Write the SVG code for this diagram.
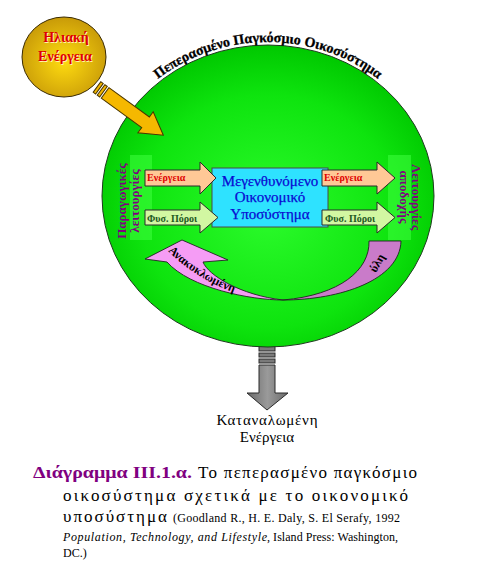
<svg xmlns="http://www.w3.org/2000/svg" width="490" height="564" viewBox="0 0 490 564">
<defs>
<radialGradient id="gEco" cx="50%" cy="55%" r="55%">
<stop offset="0" stop-color="#2cfb2c"/>
<stop offset="0.7" stop-color="#0ee40e"/>
<stop offset="1" stop-color="#00c800"/>
</radialGradient>
<radialGradient id="gSun" cx="50%" cy="55%" r="55%">
<stop offset="0" stop-color="#ffdc10"/>
<stop offset="1" stop-color="#c89a08"/>
</radialGradient>
<linearGradient id="gGray" x1="0" y1="0" x2="1" y2="0">
<stop offset="0" stop-color="#6a6a6a"/>
<stop offset="0.5" stop-color="#9a9a9a"/>
<stop offset="1" stop-color="#6a6a6a"/>
</linearGradient>
<path id="titleArc" d="M99,196 A169,154 0 0 1 437,196"/>
<path id="recArc" d="M168,251 Q198,281 243,296"/>
</defs>
<style>
text{font-family:'Liberation Serif','DejaVu Serif',serif}
.ln{stroke:#2a2a2a;stroke-width:1}
.func{font-size:13px;font-weight:bold;fill:#800080;text-anchor:middle}
.albl{font-size:10px;font-weight:bold}
.en{fill:#ffc896}
.fp{fill:#d2f7a2}
.econ{font-size:15px;fill:#0a0ad2;text-anchor:middle;stroke:#0a0ad2;stroke-width:0.25}
.cap{font-size:17px;fill:#000}
.capb{font-size:17px;font-weight:bold;fill:#800080}
.cit{font-size:12px;fill:#000}
</style>
<rect width="490" height="564" fill="#ffffff"/>

<g id="output-arrow">
<rect x="259" y="346" width="16" height="5" fill="#7a7a7a" class="ln"/>
<rect x="259" y="353" width="16" height="4" fill="#7a7a7a" class="ln"/>
<rect x="259" y="359" width="16" height="4" fill="#7a7a7a" class="ln"/>
<polygon points="259,365 275,365 275,393 288,393 267,410 247,393 259,393" fill="url(#gGray)" class="ln"/>
</g>

<g id="ecosystem">
<ellipse cx="268" cy="196" rx="166" ry="151" fill="url(#gEco)" stroke="#1e3a1e" stroke-width="1"/>
<text font-size="14" font-weight="bold" fill="#000" stroke="#000" stroke-width="0.3"><textPath href="#titleArc" startOffset="50%" text-anchor="middle">Πεπερασμένο Παγκόσμιο Οικοσύστημα</textPath></text>
</g>

<g id="production-functions">
<rect x="130" y="155" width="22" height="85" fill="#40ff40" opacity="0.55"/>
<text class="func" transform="translate(126,201) rotate(-90)">Παραγωγικές</text>
<text class="func" transform="translate(139,201) rotate(-90)">λειτουργίες</text>
</g>

<g id="sink-functions">
<rect x="388" y="155" width="23" height="85" fill="#40ff40" opacity="0.55"/>
<text class="func" transform="translate(412,197) rotate(90)">Λειτουργίες</text>
<text class="func" transform="translate(400,197) rotate(90)">αποδοχής</text>
</g>

<g id="economy">
<rect x="212" y="168" width="116" height="59" fill="#2ee2ff" stroke="#4a4a4a" stroke-width="1"/>
<text class="econ" x="270" y="186">Μεγενθυνόμενο</text>
<text class="econ" x="270" y="202">Οικονομικό</text>
<text class="econ" x="270" y="219">Υποσύστημα</text>
</g>

<g id="sun">
<ellipse cx="64" cy="57" rx="42" ry="40" fill="url(#gSun)" stroke="#3a2a00" stroke-width="1"/>
<g font-size="14" font-weight="bold" text-anchor="middle">
<text x="67" y="43" fill="#fff3b0">Ηλιακή</text>
<text x="66" y="42" fill="#e00000">Ηλιακή</text>
<text x="66" y="62" fill="#fff3b0">Ενέργεια</text>
<text x="65" y="61" fill="#e00000">Ενέργεια</text>
</g>
</g>

<g id="connectors">
<g id="solar-input" transform="translate(97,87) rotate(36)" fill="#f5b800" stroke="#4a3600" stroke-width="1">
<rect x="0" y="-6.5" width="3" height="13"/>
<rect x="5" y="-6.5" width="3" height="13"/>
<polygon points="10,-6.5 60,-6.5 60,-13 82,0 60,13 60,6.5 10,6.5"/>
</g>
<g id="energy-in">
<polygon class="en ln" points="145,170 200,170 200,162 216,178 200,194 200,186 145,186"/>
<text class="albl" x="147" y="181" fill="#e00000">Ενέργεια</text>
</g>
<g id="resources-in">
<polygon class="fp ln" points="145,210 200,210 200,202 218,217.5 200,233 200,225 145,225"/>
<text class="albl" x="147" y="221.5" fill="#1e5a1e">Φυσ. Πόροι</text>
</g>
<g id="energy-out">
<polygon class="en ln" points="322,170 377,170 377,162 395,178 377,194 377,186 322,186"/>
<text class="albl" x="324" y="181" fill="#e00000">Ενέργεια</text>
</g>
<g id="resources-out">
<polygon class="fp ln" points="322,210 377,210 377,202 395,217.5 377,233 377,225 322,225"/>
<text class="albl" x="325" y="221.5" fill="#1e5a1e">Φυσ. Πόροι</text>
</g>
<g id="recycling">
<path d="M283,300 C340,300 400,280 401,241 L369,241 C370,270 340,295 283,300 Z" fill="#c97bc9" stroke="#222" stroke-width="0.9"/>
<path d="M283,300 C250,300 190,288 167,262 L145,259 L182,240 L228,260 L203,262 C208,275 240,295 283,300 Z" fill="#f59cf5" stroke="#222" stroke-width="0.9"/>
<text font-size="12" font-weight="bold" fill="#000"><textPath href="#recArc">Ανακυκλωμένη</textPath></text>
<text font-size="12" font-weight="bold" fill="#000" text-anchor="middle" transform="translate(377,263) rotate(-60)" y="4">ύλη</text>
</g>
</g>

<g id="output-label" font-size="15" fill="#000" text-anchor="middle">
<text x="267" y="425" textLength="101" lengthAdjust="spacing">Καταναλωμένη</text>
<text x="267" y="442">Ενέργεια</text>
</g>

<g id="caption">
<text class="capb" x="33" y="478" textLength="159" lengthAdjust="spacingAndGlyphs">Διάγραμμα ΙΙΙ.1.α.</text>
<text class="cap" x="198" y="478" textLength="219" lengthAdjust="spacing">Το πεπερασμένο παγκόσμιο</text>
<text class="cap" x="63" y="501" textLength="345" lengthAdjust="spacing">οικοσύστημα σχετικά με το οικονομικό</text>
<text class="cap" x="63" y="522" textLength="104" lengthAdjust="spacing">υποσύστημα</text>
<text class="cit" x="173" y="522" textLength="227" lengthAdjust="spacing">(Goodland R., H. E. Daly, S. El Serafy, 1992</text>
<text class="cit" x="63" y="541" font-style="italic" textLength="204" lengthAdjust="spacing">Population, Technology, and Lifestyle</text>
<text class="cit" x="267" y="541" textLength="131" lengthAdjust="spacing">, Island Press: Washington,</text>
<text class="cit" x="63" y="557">DC.)</text>
</g>
</svg>
